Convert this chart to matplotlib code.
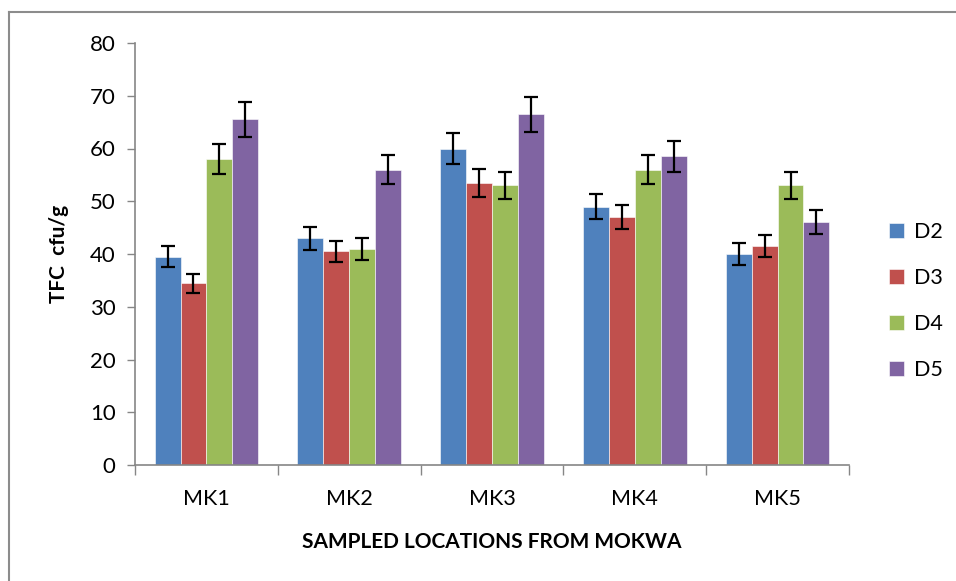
import matplotlib.pyplot as plt
from matplotlib.lines import Line2D
import numpy as np

plt.rcParams["font.family"] = ["Lato", "DejaVu Sans"]

locations = ["MK1", "MK2", "MK3", "MK4", "MK5"]
series = ["D2", "D3", "D4", "D5"]
d2 = [39.5, 43.0, 60.0, 49.0, 40.0]
d3 = [34.5, 40.5, 53.5, 47.0, 41.5]
d4 = [58.0, 41.0, 53.0, 56.0, 53.0]
d5 = [65.5, 56.0, 66.5, 58.5, 46.0]
err_d2 = [2.0, 2.2, 3.0, 2.4, 2.0]
err_d3 = [1.8, 2.0, 2.7, 2.3, 2.1]
err_d4 = [2.9, 2.1, 2.6, 2.8, 2.6]
err_d5 = [3.3, 2.8, 3.3, 2.9, 2.3]
colors = ["#4f81bd", "#c0504d", "#9bbb59", "#8064a2"]

fig = plt.figure(figsize=(9.56, 5.81), dpi=100)
ax = fig.add_axes([135 / 956, 1 - 465 / 581, (849 - 135) / 956, (465 - 43) / 581])

x = np.arange(len(locations))
width = 0.725 / len(series)
for i, (vals, errs, c, name) in enumerate(zip([d2, d3, d4, d5], [err_d2, err_d3, err_d4, err_d5], colors, series)):
    off = (i - 1.5) * width
    ax.bar(x + off, vals, width, color=c, edgecolor="white", linewidth=0.4, label=name, zorder=2)
    ax.errorbar(x + off, vals, yerr=errs, fmt="none", ecolor="black", elinewidth=1.6,
                capsize=5, capthick=1.6, zorder=3)

ax.set_xlim(-0.5, len(locations) - 0.5)
ax.set_ylim(0, 80)
ax.set_yticks(range(0, 81, 10))
ax.set_xticks(np.arange(-0.5, len(locations), 1.0), minor=False)
ax.set_xticklabels([])
ax.set_xticks(x, minor=True)
ax.set_xticklabels(locations, minor=True, fontsize=15.5)
ax.tick_params(axis="x", which="minor", length=0, pad=17)
ax.tick_params(axis="x", which="major", length=7, width=1, color="#868686", direction="out")
ax.tick_params(axis="y", length=6, width=1, color="#868686", direction="out", labelsize=16, pad=8)
ax.spines[["top", "right"]].set_visible(False)
for s in ["left", "bottom"]:
    ax.spines[s].set_color("#868686")
    ax.spines[s].set_linewidth(1.2)

ax.set_xlabel("SAMPLED LOCATIONS FROM MOKWA", fontsize=15, fontweight="bold", labelpad=17)
ax.set_ylabel("TFC  cfu/g", fontsize=15, fontweight="bold", labelpad=15)

fig.legend(loc="center left", bbox_to_anchor=(889 / 956, 1 - 301 / 581), frameon=False,
           borderpad=0, borderaxespad=0, fontsize=15.5,
           handlelength=0.7, handleheight=0.7, labelspacing=1.22, handletextpad=0.45)

# outer chart border (left and top edges visible in the reference)
fig.add_artist(Line2D([9 / 956, 9 / 956], [0, 1 - 12 / 581], transform=fig.transFigure, color="#8c8c8c", lw=1.5))
fig.add_artist(Line2D([9 / 956, 1], [1 - 12 / 581, 1 - 12 / 581], transform=fig.transFigure, color="#8c8c8c", lw=1.5))

fig.savefig("out.png", dpi=100)
